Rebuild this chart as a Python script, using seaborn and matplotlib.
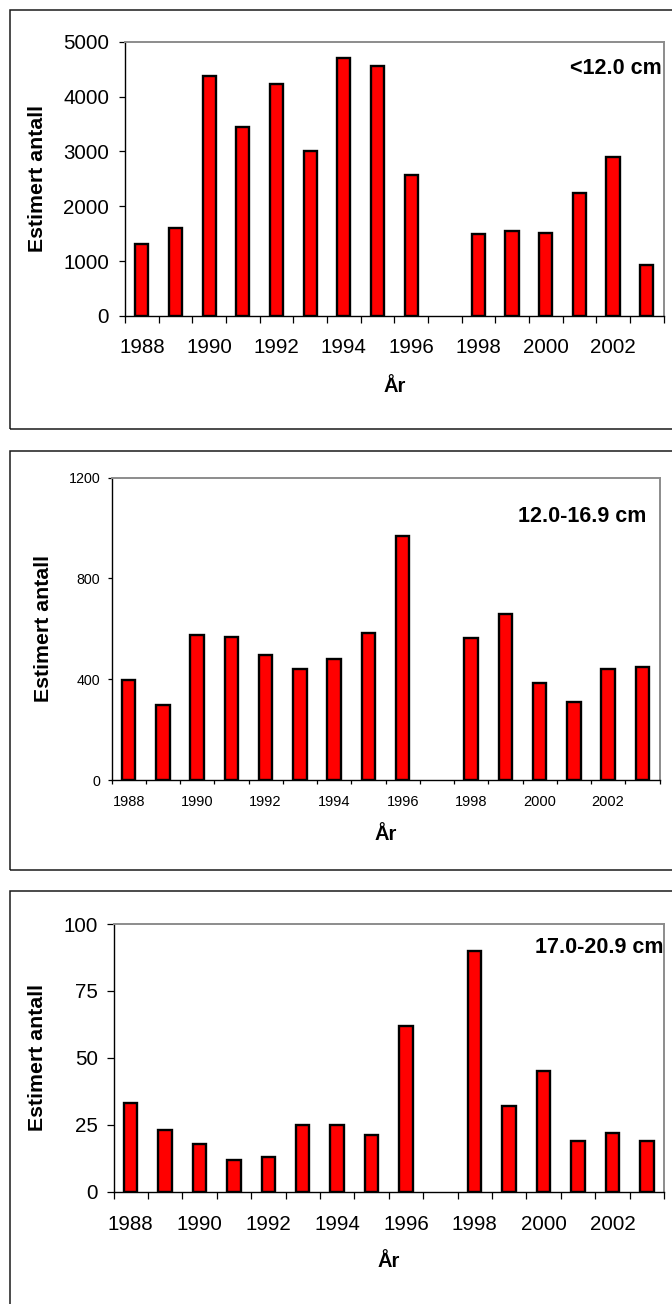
import numpy as np
import pandas as pd
import matplotlib
matplotlib.use("Agg")
import matplotlib.pyplot as plt
import matplotlib.patches as mpatches
import seaborn as sns

# ---------------- data ----------------
years = [str(y) for y in range(1988, 2004)]
year_labels = ["1988", "1990", "1992", "1994", "1996", "1998", "2000", "2002"]

# 1997: no estimate (no bar)
small_lt12 = [1306, 1609, 4372, 3443, 4220, 3005, 4705, 4559, 2568, np.nan,
              1488, 1548, 1517, 2246, 2890, 923]
mid_12_169 = [397, 298, 574, 568, 496, 441, 480, 582, 970, np.nan,
              562, 660, 386, 311, 439, 447]
large_17_209 = [33, 23, 18, 12, 13, 25, 25, 21, 62, np.nan,
                90, 32, 45, 19, 22, 19]

titles = ["<12.0 cm", "12.0-16.9 cm", "17.0-20.9 cm"]
yticks_list = [[0, 1000, 2000, 3000, 4000, 5000],
               [0, 400, 800, 1200],
               [0, 25, 50, 75, 100]]
ylabel = "Estimert antall"
xlabel = "År"

# ---------------- style ----------------
sns.set_theme(style="white")
plt.rcParams["font.family"] = ["Liberation Sans", "DejaVu Sans"]

W, H = 672, 1304
fig = plt.figure(figsize=(W / 100, H / 100), dpi=100)


def fx(px):
    return px / W


def fy(py):
    return 1 - py / H


# outer frames (pixel coords: top, bottom)
for (top, bottom) in [(10, 429.3), (450.7, 869.5), (890.7, 1400)]:
    fig.patches.append(mpatches.Rectangle((fx(10), fy(bottom)), fx(720) - fx(10),
                                          fy(top) - fy(bottom), transform=fig.transFigure,
                                          fill=False, edgecolor="#1a1a1a", linewidth=1.1,
                                          zorder=0))

panels = [
    dict(vals=small_lt12, box=(125, 663.5, 41.7, 316), ytick_fs=14.8, xtick_fs=14.8,
         ytick_len=4.3, xtick_len=4.8, ypad=7.2, xpad=15.5,
         ylab_x=37.7, xlab_base=391.7, title_xy=(570, 68.5), ylim=5000),
    dict(vals=mid_12_169, box=(111.5, 659.5, 477.7, 780), ytick_fs=10.3, xtick_fs=10.5,
         ytick_len=3.0, xtick_len=3.1, ypad=5.0, xpad=10.5,
         ylab_x=44, xlab_base=840, title_xy=(518, 517), ylim=1200),
    dict(vals=large_17_209, box=(113.5, 664, 924, 1191.7), ytick_fs=14.8, xtick_fs=14.8,
         ytick_len=4.8, xtick_len=4.8, ypad=6.5, xpad=16.5,
         ylab_x=37.7, xlab_base=1266.7, title_xy=(535, 947.5), ylim=100),
]

for i, p in enumerate(panels):
    l, r, t, b = p["box"]
    ax = fig.add_axes([fx(l), fy(b), fx(r) - fx(l), fy(t) - fy(b)])
    df = pd.DataFrame({"year": years, "value": p["vals"]})
    sns.barplot(data=df, x="year", y="value", order=years, ax=ax, color="red",
                saturation=1, edgecolor="black", linewidth=1.7, width=0.39,
                errorbar=None)
    ax.set_xlim(-0.5, len(years) - 0.5)
    ax.set_ylim(0, p["ylim"])
    ax.set_yticks(yticks_list[i])
    ax.set_yticklabels([str(v) for v in yticks_list[i]], fontsize=p["ytick_fs"])

    # major ticks at category boundaries (no labels), minor ticks carry labels
    ax.set_xticks(np.arange(-0.5, len(years), 1.0))
    ax.set_xticklabels([])
    ax.set_xticks(np.arange(0, len(years), 2), labels=year_labels, minor=True)
    ax.tick_params(axis="x", which="major", direction="out", length=p["xtick_len"],
                   width=0.9, color="black", bottom=True)
    ax.tick_params(axis="x", which="minor", length=0, pad=p["xpad"],
                   labelsize=p["xtick_fs"], labelcolor="black", bottom=True)
    ax.tick_params(axis="y", direction="out", length=p["ytick_len"], width=0.9,
                   color="black", left=True, pad=p["ypad"], labelcolor="black")

    for side in ["top", "right"]:
        ax.spines[side].set_color("#8c8c8c")
        ax.spines[side].set_linewidth(1.4)
    for side in ["left", "bottom"]:
        ax.spines[side].set_color("black")
        ax.spines[side].set_linewidth(1.0)
    ax.spines["bottom"].set_zorder(5)

    ax.set_ylabel(ylabel, fontsize=15.3, fontweight="bold", va="center", ha="center",
                  color="black")
    ax.yaxis.set_label_coords(fx(p["ylab_x"]), fy((t + b) / 2), transform=fig.transFigure)
    ax.set_xlabel(xlabel, fontsize=14.5, fontweight="bold", va="baseline", ha="center",
                  color="black")
    ax.xaxis.set_label_coords(fx((l + r) / 2), fy(p["xlab_base"]), transform=fig.transFigure)

    tx, ty = p["title_xy"]
    txt = ax.text(fx(tx), fy(ty), titles[i], transform=fig.transFigure, fontsize=15.5,
                  fontweight="bold", ha="left", va="center", color="black", clip_on=True)
    txt.set_clip_box(ax.bbox)

fig.savefig("out.png", dpi=100, facecolor="white")
